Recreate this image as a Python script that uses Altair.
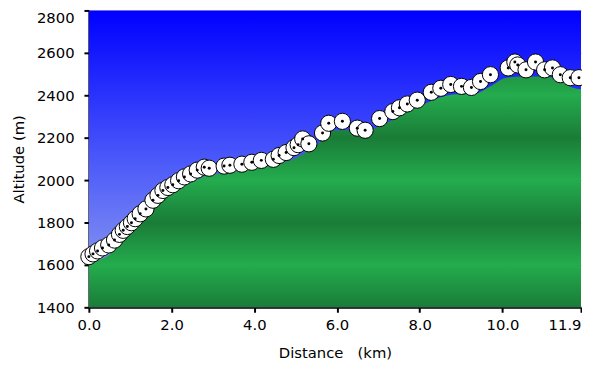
import altair as alt
import pandas as pd

# ---- data ----
profile_km = [0.0, 0.55, 0.95, 1.36, 1.75, 2.15, 2.55, 2.93, 3.34, 3.74, 4.13, 4.53,
              4.94, 5.32, 5.72, 5.96, 6.32, 6.56, 6.92, 7.32, 7.70, 8.11, 8.51, 8.90,
              9.30, 9.71, 10.09, 10.49, 10.90, 11.28, 11.69, 11.90]
profile_alt = [1611, 1657, 1763, 1831, 1900, 1951, 1997, 2024, 2033, 2047, 2061, 2075,
               2098, 2139, 2199, 2235, 2235, 2222, 2245, 2281, 2323, 2359, 2391, 2405,
               2405, 2442, 2483, 2488, 2488, 2483, 2437, 2428]

marker_km = [0.0, 0.10, 0.21, 0.33, 0.48, 0.62, 0.74, 0.83, 0.93, 1.03, 1.12, 1.24,
             1.38, 1.55, 1.67, 1.79, 1.91, 2.03, 2.17, 2.31, 2.46, 2.62, 2.79, 2.91,
             3.27, 3.41, 3.70, 3.94, 4.17, 4.46, 4.60, 4.77, 4.96, 5.06, 5.17, 5.32,
             5.65, 5.80, 6.13, 6.49, 6.68, 7.03, 7.35, 7.51, 7.70, 7.94, 8.28, 8.51,
             8.75, 9.01, 9.25, 9.47, 9.71, 10.14, 10.30, 10.37, 10.57, 10.80, 11.02,
             11.21, 11.40, 11.64, 11.85]
marker_alt = [1639, 1652, 1666, 1680, 1694, 1717, 1744, 1763, 1781, 1799, 1818, 1841,
              1864, 1905, 1928, 1951, 1965, 1978, 1997, 2015, 2029, 2047, 2061, 2056,
              2066, 2070, 2075, 2084, 2093, 2098, 2116, 2130, 2153, 2167, 2194, 2171,
              2222, 2268, 2277, 2245, 2235, 2290, 2323, 2341, 2359, 2377, 2414, 2433,
              2451, 2442, 2437, 2465, 2497, 2529, 2557, 2543, 2520, 2557, 2520, 2529,
              2497, 2483, 2483]

x_ticks = [0.0, 2.0, 4.0, 6.0, 8.0, 10.0, 11.9]
y_ticks = [1400, 1600, 1800, 2000, 2200, 2400, 2600, 2800]

profile = pd.DataFrame({"d": profile_km, "alt": profile_alt})
markers = pd.DataFrame({"d": marker_km, "alt": marker_alt})
frame = pd.DataFrame({"x0": [x_ticks[0]], "x1": [x_ticks[-1]],
                      "y0": [y_ticks[0]], "y1": [y_ticks[-1]]})

FONT = "DejaVu Sans"
Y_MIN, Y_MAX = y_ticks[0], y_ticks[-1]

# ---- green banded gradient (light at 2400/2000/1600, dark at 2600/2200/1800/1400) ----
LIGHT = (36, 172, 78)
DARK = (26, 124, 55)


def mix(a, b, t):
    return "#%02x%02x%02x" % tuple(round(a[i] + (b[i] - a[i]) * t) for i in range(3))


top_val = max(profile_alt)
span = top_val - Y_MIN
stops = []
for lvl in range(2600, 1399, -200):
    off = (top_val - lvl) / span
    dark = ((2600 - lvl) // 200) % 2 == 0
    col = mix(DARK, DARK, 0) if dark else mix(LIGHT, LIGHT, 0)
    if off < 0:
        nxt = lvl - 200
        t = (top_val - lvl) / (nxt - lvl)
        a, b = (DARK, LIGHT) if dark else (LIGHT, DARK)
        stops.append(alt.GradientStop(color=mix(a, b, t), offset=0))
    else:
        stops.append(alt.GradientStop(color=col, offset=min(1, off)))

green = alt.Gradient(gradient="linear", stops=stops, x1=0, x2=0, y1=0, y2=1)
blue = alt.Gradient(
    gradient="linear",
    stops=[alt.GradientStop(color="#0000ff", offset=0),
           alt.GradientStop(color="#4a58fa", offset=0.5),
           alt.GradientStop(color="#9aa8ee", offset=1)],
    x1=0, x2=0, y1=0, y2=1,
)

x_enc = alt.X(
    "d:Q",
    scale=alt.Scale(domain=[0, 11.9], nice=False, zero=False),
    axis=alt.Axis(
        title="Distance\u00a0\u00a0\u00a0(km)",
        values=x_ticks,
        format=".1f",
        grid=False,
        labelAlign=alt.ExprRef(expr="datum.value >= 11.9 ? 'right' : 'center'"),
    ),
)
y_enc = alt.Y(
    "alt:Q",
    scale=alt.Scale(domain=[Y_MIN, Y_MAX], nice=False, zero=False),
    axis=alt.Axis(
        title="Altitude (m)",
        values=y_ticks,
        format="d",
        grid=True,
        labelBaseline=alt.ExprRef(expr="datum.value >= 2800 ? 'top' : 'middle'"),
    ),
)

bg = alt.Chart(frame).mark_rect(fill=blue).encode(
    x=alt.X("x0:Q", scale=alt.Scale(domain=[0, 11.9], nice=False, zero=False)),
    x2="x1:Q",
    y=alt.Y("y1:Q", scale=alt.Scale(domain=[Y_MIN, Y_MAX], nice=False, zero=False)),
    y2="y0:Q",
)

area = alt.Chart(profile).mark_area(
    interpolate="monotone", fill=green, clip=True
).encode(x=x_enc, y=y_enc, y2=alt.datum(Y_MIN))

circles = alt.Chart(markers).mark_point(
    shape="circle", filled=True, fill="white", stroke="black", strokeWidth=1,
    size=270, opacity=1
).encode(x="d:Q", y="alt:Q")

dots = alt.Chart(markers).mark_point(
    shape="circle", filled=True, fill="black", size=9, opacity=1
).encode(x="d:Q", y="alt:Q")

chart = alt.layer(bg, area, circles, dots).properties(
    width=499,
    height=301,
    autosize=alt.AutoSizeParams(type="none"),
    padding={"left": 82, "top": 0, "right": 1, "bottom": 56},
    background="white",
).configure_view(
    stroke=None,
).configure_axis(
    labelFont=FONT, titleFont=FONT, labelFontSize=15, titleFontSize=15,
    titleFontWeight="normal", labelColor="black", titleColor="black",
    domainColor="black", domainWidth=2, tickColor="black", tickWidth=2, tickSize=5,
    gridColor="black", gridOpacity=0.25, gridWidth=1,
).configure_axisX(
    labelPadding=6, titlePadding=13,
).configure_axisY(
    labelPadding=10, titlePadding=10,
)

chart.save("out.html", embed_options={"renderer": "svg", "actions": False})
